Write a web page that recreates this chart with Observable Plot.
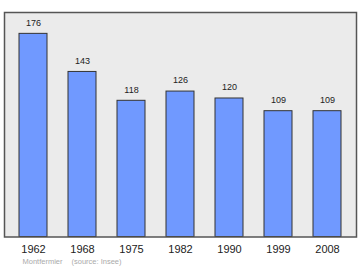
<!DOCTYPE html>
<html>
<head>
<meta charset="utf-8">
<script src="https://cdn.jsdelivr.net/npm/d3@7"></script>
<script src="https://cdn.jsdelivr.net/npm/@observablehq/plot@0.6"></script>
<style>
body { margin: 0; background: #fff; }
svg { display: block; }
</style>
</head>
<body>
<div id="chart"></div>
<script>
const years = ["1962", "1968", "1975", "1982", "1990", "1999", "2008"];
const population = [176, 143, 118, 126, 120, 109, 109];
const place = "Montfermier";
const source = "(source: Insee)";

const data = years.map((y, i) => ({year: y, pop: population[i]}));

const chart = Plot.plot({
  width: 360,
  height: 270,
  marginLeft: 4,
  marginRight: 4,
  marginTop: 12,
  marginBottom: 33.5,
  style: {fontFamily: "'Liberation Sans', Arial, sans-serif", background: "#fff"},
  x: {domain: years, paddingInner: 0.43, paddingOuter: 0.3, axis: null},
  y: {domain: [0, 194.5], axis: null},
  marks: [
    Plot.frame({fill: "#ebebeb", stroke: "none"}),
    Plot.barY(data, {x: "year", y: "pop", fill: "#7099ff", stroke: "#333", strokeWidth: 1}),
    Plot.frame({stroke: "#555", strokeWidth: 1.5}),
    Plot.text(data, {x: "year", y: "pop", text: d => String(d.pop), dy: -11, fontSize: 9, fill: "#222"}),
    Plot.axisX({domain: years, tickSize: 0, tickPadding: 8, fontSize: 11, fill: "#222", label: null}),
    Plot.text([place], {frameAnchor: "bottom-left", dx: 18, dy: 26.5, fontSize: 7.5, fill: "#aaa", textAnchor: "start"}),
    Plot.text([source], {frameAnchor: "bottom-left", dx: 67, dy: 26.5, fontSize: 7.5, fill: "#aaa", textAnchor: "start"})
  ]
});
document.getElementById("chart").appendChild(chart);
</script>
</body>
</html>
